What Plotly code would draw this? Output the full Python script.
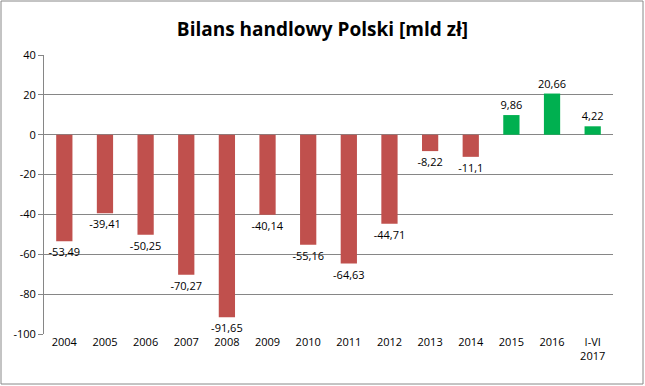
import plotly.graph_objects as go

categories = ["2004", "2005", "2006", "2007", "2008", "2009", "2010", "2011",
              "2012", "2013", "2014", "2015", "2016", "I-VI<br>2017"]
values = [-53.49, -39.41, -50.25, -70.27, -91.65, -40.14, -55.16, -64.63,
          -44.71, -8.22, -11.1, 9.86, 20.66, 4.22]
labels = ["-53,49", "-39,41", "-50,25", "-70,27", "-91,65", "-40,14", "-55,16",
          "-64,63", "-44,71", "-8,22", "-11,1", "9,86", "20,66", "4,22"]
y_ticks = [-100, -80, -60, -40, -20, 0, 20, 40]
y_tick_text = ["-100", "-80", "-60", "-40", "-20", "0", "20", "40"]

RED = "#C0504D"
GREEN = "#00B050"
colors = [GREEN if v > 0 else RED for v in values]
FONT = "Open Sans, Liberation Sans, sans-serif"

fig = go.Figure(go.Bar(
    x=categories, y=values, marker_color=colors, marker_line_width=0,
    text=labels, textposition="outside", cliponaxis=False, constraintext="none",
    textfont=dict(family=FONT, size=11, color="#000"),
    width=0.4,
))

L, R, T, B = 44, 32, 55, 52
PW, PH = 645 - L - R, 386 - T - B

fig.update_layout(
    width=645, height=386,
    margin=dict(l=L, r=R, t=T, b=B, autoexpand=False),
    paper_bgcolor="white", plot_bgcolor="white",
    title=dict(text="<b>Bilans handlowy Polski [mld zł]</b>", x=0.5, xanchor="center",
               y=0.925, yanchor="middle",
               font=dict(family=FONT, size=19, color="#000")),
    showlegend=False,
    font=dict(family=FONT, size=11, color="#000"),
    shapes=[dict(type="rect", xref="paper", yref="paper",
                 x0=(1 - L) / PW, x1=(643 - L) / PW,
                 y0=1 - (384 - T) / PH, y1=1 + (T - 1) / PH,
                 line=dict(color="#888888", width=1))],
)
fig.update_yaxes(range=[-100, 40], tickvals=y_ticks, ticktext=y_tick_text,
                 showgrid=True, gridcolor="#868686",
                 gridwidth=1, zeroline=True, zerolinecolor="#868686", zerolinewidth=1,
                 showline=True, linecolor="#868686", ticks="outside", ticklen=5,
                 tickcolor="#868686", tickfont=dict(size=11), automargin=False)
fig.update_xaxes(showline=False, ticks="", tickfont=dict(size=11), tickangle=0,
                 automargin=False)

fig.write_html("out.html", post_script="document.body.style.margin='0';",
               config={"displayModeBar": False})
